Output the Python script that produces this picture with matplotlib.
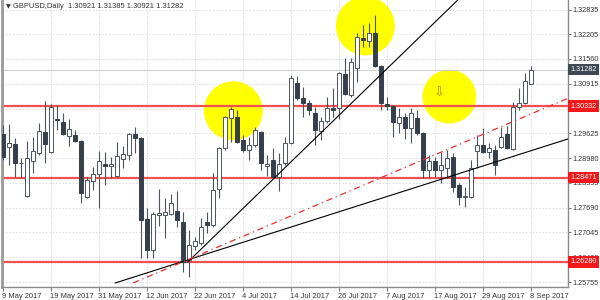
import matplotlib
matplotlib.use('Agg')
import matplotlib.pyplot as plt
import matplotlib.transforms as mtransforms
from matplotlib.patches import Rectangle

plt.rcParams['font.family'] = ['Liberation Sans', 'DejaVu Sans']

# ---- data (GBPUSD daily, 9 May 2017 .. 8 Sep 2017) ----
opens = [1.2961, 1.2927, 1.2935, 1.2884, 1.2799, 1.2890, 1.2911, 1.2966, 1.2914, 1.2999,
         1.2992, 1.2956, 1.2958, 1.2943, 1.2797, 1.2838, 1.2857, 1.2883, 1.2877, 1.2851,
         1.2896, 1.2906, 1.2961, 1.2950, 1.2740, 1.2659, 1.2750, 1.2750, 1.2753, 1.2760,
         1.2732, 1.2633, 1.2669, 1.2677, 1.2732, 1.2724, 1.2818, 1.2924, 1.3002, 1.3005,
         1.2945, 1.2919, 1.2932, 1.2966, 1.2877, 1.2893, 1.2849, 1.2885, 1.2937, 1.3094,
         1.3054, 1.3041, 1.3015, 1.2969, 1.2995, 1.3028, 1.3028, 1.3117, 1.3062, 1.3133,
         1.3211, 1.3203, 1.3224, 1.3138, 1.3039, 1.3034, 1.2989, 1.3005, 1.2976, 1.3002,
         1.2963, 1.2867, 1.2890, 1.2867, 1.2872, 1.2901, 1.2828, 1.2797, 1.2797, 1.2916,
         1.2932, 1.2914, 1.2919, 1.2927, 1.2961, 1.2922, 1.3031, 1.3041, 1.30921]
highs = [1.2984, 1.2987, 1.2950, 1.2898, 1.2943, 1.2953, 1.2989, 1.3047, 1.3039, 1.3036,
         1.3015, 1.2999, 1.2971, 1.2945, 1.2849, 1.2875, 1.2916, 1.2914, 1.2901, 1.2940,
         1.2930, 1.2964, 1.2979, 1.2952, 1.2768, 1.2758, 1.2818, 1.2794, 1.2805, 1.2812,
         1.2758, 1.2711, 1.2692, 1.2742, 1.2758, 1.2859, 1.2927, 1.3007, 1.3031, 1.3023,
         1.2958, 1.2953, 1.2979, 1.2969, 1.2906, 1.2924, 1.2911, 1.2953, 1.3114, 1.3112,
         1.3083, 1.3049, 1.3031, 1.3005, 1.3057, 1.3080, 1.3122, 1.3159, 1.3159, 1.3224,
         1.3245, 1.3250, 1.3271, 1.3140, 1.3057, 1.3036, 1.3028, 1.3015, 1.3028, 1.3023,
         1.2966, 1.2906, 1.2901, 1.2914, 1.2919, 1.2911, 1.2833, 1.2823, 1.2893, 1.2958,
         1.2976, 1.2937, 1.2932, 1.2979, 1.2981, 1.3044, 1.3080, 1.3120, 1.31385]
lows = [1.2893, 1.2880, 1.2849, 1.2846, 1.2797, 1.2859, 1.2906, 1.2885, 1.2911, 1.2971,
        1.2958, 1.2930, 1.2940, 1.2781, 1.2794, 1.2815, 1.2768, 1.2828, 1.2846, 1.2849,
        1.2872, 1.2893, 1.2911, 1.2638, 1.2638, 1.2638, 1.2721, 1.2690, 1.2750, 1.2719,
        1.2602, 1.2589, 1.2659, 1.2672, 1.2703, 1.2719, 1.2794, 1.2919, 1.2940, 1.2937,
        1.2914, 1.2893, 1.2927, 1.2867, 1.2851, 1.2846, 1.2812, 1.2880, 1.2935, 1.3049,
        1.3005, 1.3010, 1.2932, 1.2945, 1.2989, 1.3005, 1.2999, 1.3062, 1.3057, 1.3096,
        1.3187, 1.3187, 1.3135, 1.3023, 1.3023, 1.2953, 1.2963, 1.2948, 1.2937, 1.2958,
        1.2846, 1.2846, 1.2849, 1.2833, 1.2846, 1.2810, 1.2776, 1.2771, 1.2794, 1.2872,
        1.2911, 1.2898, 1.2854, 1.2924, 1.2922, 1.2919, 1.3023, 1.3039, 1.30921]
closes = [1.2901, 1.2937, 1.2885, 1.2886, 1.2898, 1.2916, 1.2969, 1.2935, 1.3031, 1.2997,
          1.2961, 1.2974, 1.2943, 1.2807, 1.2841, 1.2857, 1.2890, 1.2877, 1.2883, 1.2903,
          1.2909, 1.2961, 1.2950, 1.2737, 1.2659, 1.2753, 1.2755, 1.2758, 1.2781, 1.2737,
          1.2628, 1.2672, 1.2682, 1.2719, 1.2724, 1.2815, 1.2924, 1.3005, 1.3026, 1.2940,
          1.2919, 1.2932, 1.2971, 1.2885, 1.2883, 1.2849, 1.2883, 1.2937, 1.3107, 1.3054,
          1.3041, 1.3023, 1.2971, 1.2995, 1.3028, 1.3023, 1.3120, 1.3065, 1.3148, 1.3213,
          1.3205, 1.3224, 1.3138, 1.3041, 1.3034, 1.2992, 1.3005, 1.2976, 1.3015, 1.2963,
          1.2867, 1.2890, 1.2867, 1.2880, 1.2898, 1.2823, 1.2797, 1.2800, 1.2872, 1.2932,
          1.2914, 1.2924, 1.2880, 1.2953, 1.2924, 1.3031, 1.3041, 1.3099, 1.31282]

date_tick_idx = [0, 8, 16, 24, 32, 40, 48, 56, 64, 72, 80, 88]
date_labels = ["9 May 2017", "19 May 2017", "31 May 2017", "12 Jun 2017", "22 Jun 2017",
               "4 Jul 2017", "14 Jul 2017", "26 Jul 2017", "7 Aug 2017", "17 Aug 2017",
               "29 Aug 2017", "8 Sep 2017"]
price_ticks = [1.32835, 1.32205, 1.31560, 1.30915, 1.30270, 1.29625, 1.28980, 1.28335,
               1.27690, 1.27045, 1.26400, 1.25755]
levels = [1.30332, 1.28471, 1.26280]
current_price = 1.31282
header = "GBPUSD,Daily  1.30921 1.31385 1.30921 1.31282"

# trend lines: (x indices, prices)
trend_steep = ([30.8, 75.8], [1.26275, 1.33095])
trend_flat = ([18.7, 94.2], [1.2573, 1.2948])
trend_dashdot = ([21.7, 94.2], [1.2573, 1.3054])

# highlight circles: (x index, price, marker size)
circles_x = [38.4, 60.4, 74.4]
circles_y = [1.3021, 1.3242, 1.3058]
circles_s = [1800, 1800, 1500]

# ---- figure ----
fig = plt.figure(figsize=(6, 3), dpi=100)
ax = fig.add_axes([2/600, 13/300, 566/600, 287/300])
ax.set_xlim(-1/6, 94.17)
ax.set_ylim(1.25625, 1.33095)

# grid
for xi in date_tick_idx:
    ax.axvline(xi, color='#d9d9d9', lw=0.6, ls=(0, (2, 2)), zorder=0)
for p in price_ticks:
    ax.axhline(p, color='#d9d9d9', lw=0.6, ls=(0, (2, 2)), zorder=0)

# yellow circles
ax.scatter(circles_x, circles_y, s=circles_s, c='#ffff00', edgecolors='none', zorder=1)

# current price line
ax.axhline(current_price, color='#cfcfcf', lw=0.8, zorder=1.5)

# horizontal levels
for lv in levels:
    ax.axhline(lv, color='#f05050', lw=1.6, zorder=2)

# candles
bull_edge = '#4b5560'
bear_fill = '#36404c'
w = 0.6
for i, (o, h, l, c) in enumerate(zip(opens, highs, lows, closes)):
    ax.plot([i, i], [l, h], color='#4b5560', lw=0.8, zorder=3, solid_capstyle='butt')
    lo, hi = min(o, c), max(o, c)
    height = max(hi - lo, 0.00008)
    if c >= o:
        rect = Rectangle((i - w/2, lo), w, height, facecolor='white', edgecolor=bull_edge,
                         lw=0.7, zorder=3.5)
    else:
        rect = Rectangle((i - w/2, lo), w, height, facecolor=bear_fill, edgecolor=bear_fill,
                         lw=0.7, zorder=3.5)
    ax.add_patch(rect)

# trend lines
ax.plot(*trend_steep, color='black', lw=0.8, zorder=4)
ax.plot(*trend_flat, color='black', lw=0.8, zorder=4)
ax.plot(*trend_dashdot, color='#e83030', lw=0.9, ls=(0, (5, 3, 1, 3)), zorder=4)

# arrow marker
ax.text(72.7, 1.3067, '\u21e9', family=['DejaVu Sans'], fontsize=9.5, color='#b08a00',
        ha='center', va='center', zorder=5)

# axes styling
ax.spines['top'].set_visible(False)
ax.spines['left'].set_color('#9a9a9a')
ax.spines['left'].set_linewidth(2)
ax.spines['right'].set_color('#8a8a8a')
ax.spines['right'].set_linewidth(1)
ax.spines['bottom'].set_color('#8a8a8a')
ax.spines['bottom'].set_linewidth(1)

ax.set_xticks(date_tick_idx)
ax.set_xticklabels(date_labels, ha='left', fontsize=5.4, color='#333333')
ax.tick_params(axis='x', length=3, width=0.7, color='#777777', pad=1)
offset = mtransforms.ScaledTranslation(-1/100, 0, fig.dpi_scale_trans)
for lbl in ax.get_xticklabels():
    lbl.set_transform(lbl.get_transform() + offset)

ax.yaxis.tick_right()
ax.set_yticks(price_ticks)
ax.set_yticklabels([f"{p:.5f}" for p in price_ticks], fontsize=5.2, color='#333333')
ax.tick_params(axis='y', length=2.5, width=0.7, color='#777777', pad=1)

# right-side price boxes
trans = mtransforms.blended_transform_factory(ax.transAxes, ax.transData)
ax.text(1.0045, current_price, f"{current_price:.5f}", transform=trans, fontsize=5.2,
        color='white', ha='left', va='center', clip_on=False, zorder=6,
        bbox=dict(boxstyle='square,pad=0.3', fc='#3f4953', ec='none'))
for lv in levels:
    ax.text(1.0045, lv, f"{lv:.5f}", transform=trans, fontsize=5.2, color='white',
            ha='left', va='center', clip_on=False, zorder=6,
            bbox=dict(boxstyle='square,pad=0.3', fc='#f01818', ec='none'))

# header
fig.text(6/600, 1 - 7/300, '\u25bc', family=['DejaVu Sans'], fontsize=4.5, color='#333333',
         ha='left', va='center')
fig.text(13/600, 1 - 7/300, header, fontsize=5.4, color='#333333', ha='left', va='center')

fig.savefig('out.png', dpi=100)
